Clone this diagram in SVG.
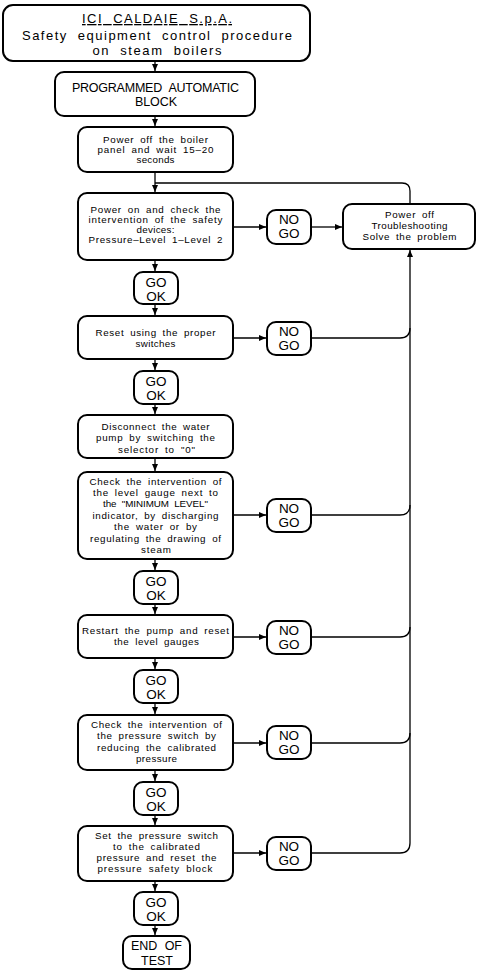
<svg xmlns="http://www.w3.org/2000/svg" width="479" height="971" viewBox="0 0 479 971">
<defs>
<marker id="ah" markerUnits="userSpaceOnUse" markerWidth="8" markerHeight="8" refX="7" refY="4" orient="auto">
<path d="M0,1 L7,4 L0,7 Z" fill="#000"/>
</marker>
<style>
.box{fill:#fff;stroke:#000;stroke-width:2}
.c{fill:none;stroke:#000;stroke-width:1.3}
text{font-family:"Liberation Sans",Arial,sans-serif;fill:#000;text-anchor:middle}
.t{font-size:9.8px;word-spacing:2.5px}
.m{font-size:13.5px}
.h{font-size:13px;word-spacing:5px}
</style>
</defs>
<rect width="479" height="971" fill="#fff"/>
<g id="connectors">
<path class="c" d="M155,61 V71" marker-end="url(#ah)"/>
<path class="c" d="M155,116 V126" marker-end="url(#ah)"/>
<path class="c" d="M155,172 V192" marker-end="url(#ah)"/>
<path class="c" d="M410,204 V191 Q410,183 402,183 H155"/>
<path class="c" d="M155,260 V271" marker-end="url(#ah)"/>
<path class="c" d="M155,304 V315" marker-end="url(#ah)"/>
<path class="c" d="M155,359 V370" marker-end="url(#ah)"/>
<path class="c" d="M155,404 V414" marker-end="url(#ah)"/>
<path class="c" d="M155,458 V471" marker-end="url(#ah)"/>
<path class="c" d="M155,559 V570" marker-end="url(#ah)"/>
<path class="c" d="M155,604 V614" marker-end="url(#ah)"/>
<path class="c" d="M155,658 V669" marker-end="url(#ah)"/>
<path class="c" d="M155,703 V714" marker-end="url(#ah)"/>
<path class="c" d="M155,770 V781" marker-end="url(#ah)"/>
<path class="c" d="M155,815 V825" marker-end="url(#ah)"/>
<path class="c" d="M155,881 V891" marker-end="url(#ah)"/>
<path class="c" d="M155,925 V935" marker-end="url(#ah)"/>
<path class="c" d="M233,227 H266" marker-end="url(#ah)"/>
<path class="c" d="M311,227 H342" marker-end="url(#ah)"/>
<path class="c" d="M233,338 H266" marker-end="url(#ah)"/>
<path class="c" d="M233,515 H266" marker-end="url(#ah)"/>
<path class="c" d="M233,637 H266" marker-end="url(#ah)"/>
<path class="c" d="M233,743 H266" marker-end="url(#ah)"/>
<path class="c" d="M233,853 H266" marker-end="url(#ah)"/>
<path class="c" d="M311,853 H400 Q410,853 410,843 V250" marker-end="url(#ah)"/>
<path class="c" d="M311,338 H400 Q410,338 410,328"/>
<path class="c" d="M311,515 H400 Q410,515 410,505"/>
<path class="c" d="M311,637 H400 Q410,637 410,627"/>
<path class="c" d="M311,743 H400 Q410,743 410,733"/>
</g>
<g id="title">
<rect class="box" x="3" y="5" width="307" height="56" rx="10"/>
<text class="h" x="157" y="23" textLength="150" lengthAdjust="spacing" text-decoration="underline">ICI CALDAIE S.p.A.</text>
<text class="h" x="157" y="40" textLength="270" lengthAdjust="spacing">Safety equipment control procedure</text>
<text class="h" x="157" y="55" textLength="129" lengthAdjust="spacing">on steam boilers</text>
</g>
<g id="n_block">
<rect class="box" x="55" y="72" width="200" height="44" rx="9"/>
<text style="font-size:12.5px;word-spacing:4px" x="155.5" y="92" textLength="167" lengthAdjust="spacing">PROGRAMMED AUTOMATIC</text>
<text style="font-size:12.5px" x="156" y="106" textLength="42" lengthAdjust="spacing">BLOCK</text>
</g>
<g id="n_poweroff">
<rect class="box" x="78" y="127" width="155" height="45" rx="9"/>
<text class="t" x="155.5" y="143" textLength="105" lengthAdjust="spacing">Power off the boiler</text>
<text class="t" x="155.5" y="153" textLength="116" lengthAdjust="spacing">panel and wait 15–20</text>
<text class="t" x="155.5" y="163" textLength="38" lengthAdjust="spacing">seconds</text>
</g>
<g id="n_poweron">
<rect class="box" x="78" y="193" width="155" height="67" rx="9"/>
<text class="t" x="155.5" y="213" textLength="130" lengthAdjust="spacing">Power on and check the</text>
<text class="t" x="155.5" y="223" textLength="134" lengthAdjust="spacing">intervention of the safety</text>
<text class="t" x="155.5" y="233" textLength="38" lengthAdjust="spacing">devices:</text>
<text class="t" x="155.5" y="243" textLength="134" lengthAdjust="spacing">Pressure–Level 1–Level 2</text>
</g>
<g id="ng1">
<rect class="box" x="267" y="210" width="44" height="34" rx="9"/>
<text class="m" x="289" y="224">NO</text>
<text class="m" x="289" y="238">GO</text>
</g>
<g id="n_trouble">
<rect class="box" x="343" y="204" width="132" height="45" rx="9"/>
<text class="t" x="409.5" y="218" textLength="49" lengthAdjust="spacing">Power off</text>
<text class="t" x="409.5" y="229" textLength="76" lengthAdjust="spacing">Troubleshooting</text>
<text class="t" x="409.5" y="240" textLength="94" lengthAdjust="spacing">Solve the problem</text>
</g>
<g id="ok1">
<rect class="box" x="134" y="272" width="44" height="32" rx="9"/>
<text class="m" x="156" y="287">GO</text>
<text class="m" x="156" y="301">OK</text>
</g>
<g id="n_reset">
<rect class="box" x="78" y="316" width="155" height="43" rx="9"/>
<text class="t" x="155.5" y="336" textLength="120" lengthAdjust="spacing">Reset using the proper</text>
<text class="t" x="155.5" y="347" textLength="40" lengthAdjust="spacing">switches</text>
</g>
<g id="ng2">
<rect class="box" x="267" y="322" width="44" height="33" rx="9"/>
<text class="m" x="289" y="336">NO</text>
<text class="m" x="289" y="350">GO</text>
</g>
<g id="ok2">
<rect class="box" x="134" y="371" width="44" height="33" rx="9"/>
<text class="m" x="156" y="386">GO</text>
<text class="m" x="156" y="400">OK</text>
</g>
<g id="n_disconnect">
<rect class="box" x="78" y="415" width="155" height="43" rx="9"/>
<text class="t" x="155.5" y="430" textLength="108" lengthAdjust="spacing">Disconnect the water</text>
<text class="t" x="155.5" y="441" textLength="119" lengthAdjust="spacing">pump by switching the</text>
<text class="t" x="156.5" y="453" textLength="77" lengthAdjust="spacing">selector to "0"</text>
</g>
<g id="n_level">
<rect class="box" x="78" y="472" width="155" height="87" rx="9"/>
<text class="t" x="155.5" y="485" textLength="132" lengthAdjust="spacing">Check the intervention of</text>
<text class="t" x="155.5" y="496" textLength="125" lengthAdjust="spacing">the level gauge next to</text>
<text class="t" x="155.5" y="507" textLength="105" lengthAdjust="spacing">the "MINIMUM LEVEL"</text>
<text class="t" x="155.5" y="519" textLength="126" lengthAdjust="spacing">indicator, by discharging</text>
<text class="t" x="155.5" y="530" textLength="83" lengthAdjust="spacing">the water or by</text>
<text class="t" x="155.5" y="542" textLength="131" lengthAdjust="spacing">regulating the drawing of</text>
<text class="t" x="156" y="553" textLength="30" lengthAdjust="spacing">steam</text>
</g>
<g id="ng3">
<rect class="box" x="267" y="499" width="44" height="33" rx="9"/>
<text class="m" x="289" y="513">NO</text>
<text class="m" x="289" y="527">GO</text>
</g>
<g id="ok3">
<rect class="box" x="134" y="571" width="44" height="33" rx="9"/>
<text class="m" x="156" y="586">GO</text>
<text class="m" x="156" y="600">OK</text>
</g>
<g id="n_restart">
<rect class="box" x="78" y="615" width="155" height="43" rx="9"/>
<text class="t" x="155.5" y="634" textLength="147" lengthAdjust="spacing">Restart the pump and reset</text>
<text class="t" x="156.5" y="645" textLength="85" lengthAdjust="spacing">the level gauges</text>
</g>
<g id="ng4">
<rect class="box" x="267" y="621" width="44" height="33" rx="9"/>
<text class="m" x="289" y="635">NO</text>
<text class="m" x="289" y="649">GO</text>
</g>
<g id="ok4">
<rect class="box" x="134" y="670" width="44" height="33" rx="9"/>
<text class="m" x="156" y="685">GO</text>
<text class="m" x="156" y="699">OK</text>
</g>
<g id="n_pressure">
<rect class="box" x="78" y="715" width="155" height="55" rx="9"/>
<text class="t" x="156.5" y="728" textLength="131" lengthAdjust="spacing">Check the intervention of</text>
<text class="t" x="156.5" y="739" textLength="119" lengthAdjust="spacing">the pressure switch by</text>
<text class="t" x="156.5" y="751" textLength="119" lengthAdjust="spacing">reducing the calibrated</text>
<text class="t" x="156.5" y="762" textLength="41" lengthAdjust="spacing">pressure</text>
</g>
<g id="ng5">
<rect class="box" x="267" y="726" width="44" height="33" rx="9"/>
<text class="m" x="289" y="740">NO</text>
<text class="m" x="289" y="754">GO</text>
</g>
<g id="ok5">
<rect class="box" x="134" y="782" width="44" height="33" rx="9"/>
<text class="m" x="156" y="797">GO</text>
<text class="m" x="156" y="811">OK</text>
</g>
<g id="n_set">
<rect class="box" x="78" y="826" width="155" height="55" rx="9"/>
<text class="t" x="156.5" y="839" textLength="123" lengthAdjust="spacing">Set the pressure switch</text>
<text class="t" x="156.5" y="850" textLength="87" lengthAdjust="spacing">to the calibrated</text>
<text class="t" x="156.5" y="861" textLength="120" lengthAdjust="spacing">pressure and reset the</text>
<text class="t" x="155" y="872" textLength="115" lengthAdjust="spacing">pressure safety block</text>
</g>
<g id="ng6">
<rect class="box" x="267" y="837" width="44" height="33" rx="9"/>
<text class="m" x="289" y="851">NO</text>
<text class="m" x="289" y="865">GO</text>
</g>
<g id="ok6">
<rect class="box" x="134" y="892" width="44" height="33" rx="9"/>
<text class="m" x="156" y="907">GO</text>
<text class="m" x="156" y="921">OK</text>
</g>
<g id="n_end">
<rect class="box" x="123" y="936" width="67" height="33" rx="9"/>
<text x="156.5" y="950" style="font-size:12.5px;word-spacing:4px" textLength="51" lengthAdjust="spacing">END OF</text>
<text x="157" y="964.5" style="font-size:12.5px">TEST</text>
</g>
</svg>
